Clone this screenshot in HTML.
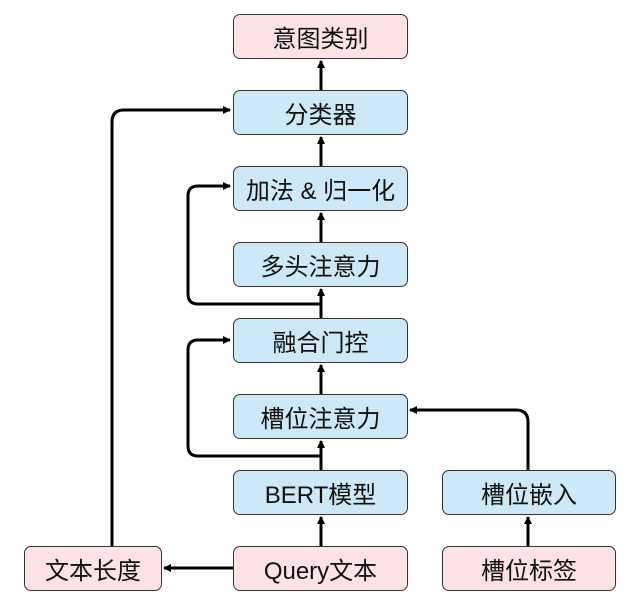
<!DOCTYPE html>
<html><head><meta charset="utf-8"><style>
body{margin:0;background:#fff;width:640px;height:605px;position:relative;overflow:hidden;font-family:"Liberation Sans","Noto Sans CJK SC",sans-serif}
.b{position:absolute;box-sizing:border-box;border:1.5px solid #333;border-radius:7px;display:flex;align-items:center;justify-content:center;font-size:24px;color:#111;height:45px}
.p{background:#fde3e6}.c{background:#cde8f6}
svg{position:absolute;left:0;top:0}
</style></head><body>
<svg width="640" height="605" viewBox="0 0 640 605">
<defs><marker id="a" markerWidth="8" markerHeight="8" refX="7" refY="4" orient="auto" markerUnits="userSpaceOnUse"><path d="M0,0 L8,4 L0,8 z" fill="#000"/></marker></defs>
<g stroke="#000" stroke-width="3" fill="none">
<line x1="321" y1="90" x2="321" y2="61" marker-end="url(#a)"/>
<line x1="321" y1="166" x2="321" y2="137" marker-end="url(#a)"/>
<line x1="321" y1="242" x2="321" y2="213" marker-end="url(#a)"/>
<line x1="321" y1="318" x2="321" y2="289" marker-end="url(#a)"/>
<line x1="321" y1="394" x2="321" y2="365" marker-end="url(#a)"/>
<line x1="321" y1="470" x2="321" y2="441" marker-end="url(#a)"/>
<line x1="321" y1="546" x2="321" y2="517" marker-end="url(#a)"/>
<line x1="528" y1="546" x2="528" y2="517" marker-end="url(#a)"/>
<line x1="233" y1="568" x2="164" y2="568" marker-end="url(#a)"/>
<path d="M112,546 L112,122 Q112,110 124,110 L230,110" marker-end="url(#a)"/>
<path d="M321,304 L198,304 Q188,304 188,294 L188,196 Q188,186 198,186 L230,186" marker-end="url(#a)"/>
<path d="M321,456 L198,456 Q188,456 188,446 L188,350 Q188,340 198,340 L230,340" marker-end="url(#a)"/>
<path d="M528,470 L528,422 Q528,410 516,410 L410,410" marker-end="url(#a)"/>
</g></svg>
<div class="b p" style="left:233px;top:14px;width:175px">意图类别</div>
<div class="b c" style="left:233px;top:90px;width:175px">分类器</div>
<div class="b c" style="left:233px;top:166px;width:175px">加法 &amp; 归一化</div>
<div class="b c" style="left:233px;top:242px;width:175px">多头注意力</div>
<div class="b c" style="left:233px;top:318px;width:175px">融合门控</div>
<div class="b c" style="left:233px;top:394px;width:175px">槽位注意力</div>
<div class="b c" style="left:233px;top:470px;width:175px">BERT模型</div>
<div class="b p" style="left:233px;top:546px;width:175px">Query文本</div>
<div class="b p" style="left:24px;top:546px;width:138px">文本长度</div>
<div class="b c" style="left:442px;top:470px;width:174px">槽位嵌入</div>
<div class="b p" style="left:442px;top:546px;width:174px">槽位标签</div>
</body></html>
